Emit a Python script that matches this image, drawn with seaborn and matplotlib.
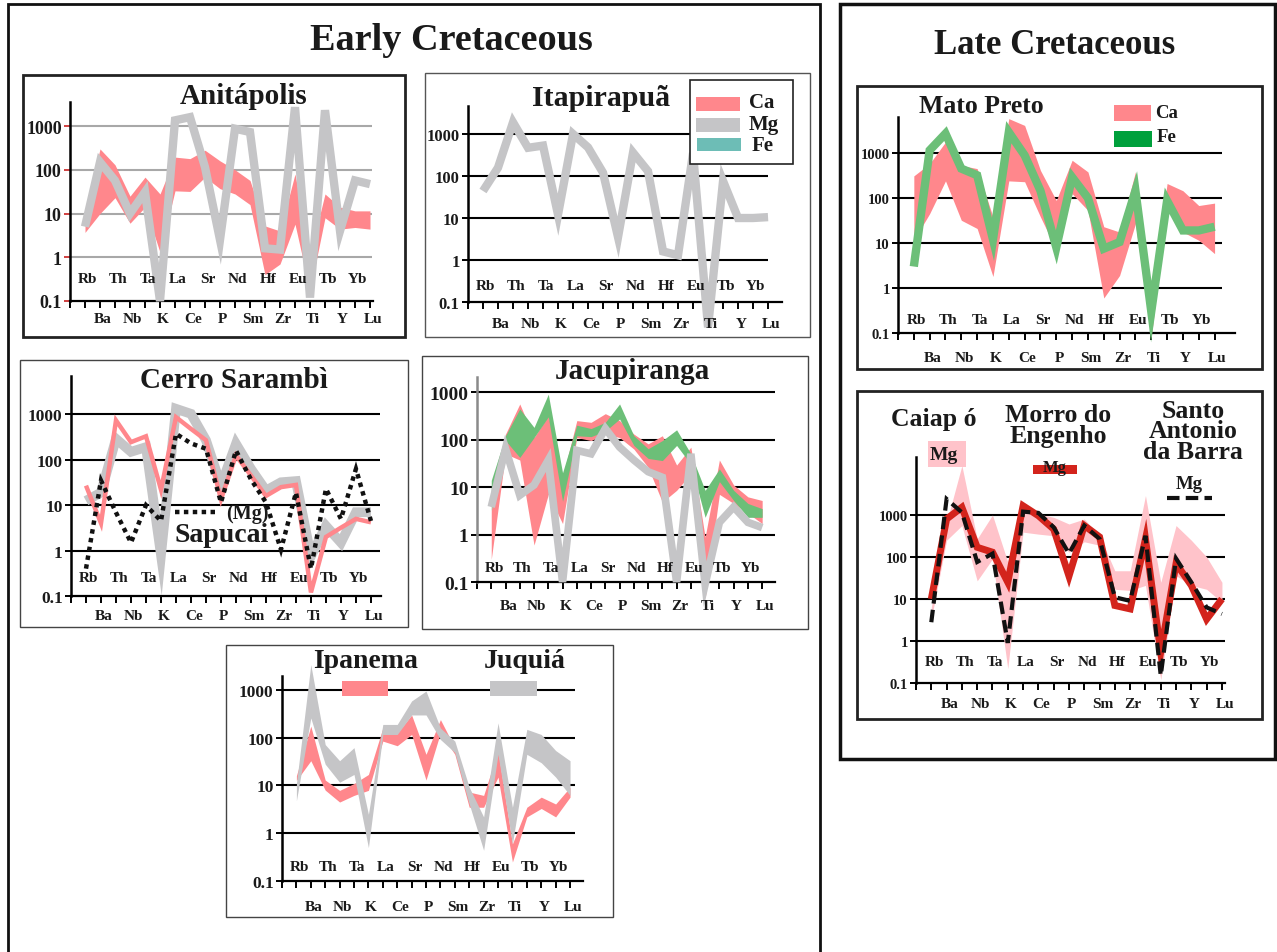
import numpy as np
import matplotlib
matplotlib.use("Agg")
import matplotlib.pyplot as plt
import seaborn as sns
from matplotlib.patches import Rectangle
from matplotlib.lines import Line2D
from matplotlib.ticker import NullLocator, FixedLocator

W, H = 1277, 953
sns.set_theme(style="white")
plt.rcParams['font.family'] = ['Liberation Serif', 'DejaVu Serif']

# ---------------- data ----------------
elements = ["Rb", "Ba", "Th", "Nb", "Ta", "K", "La", "Ce", "Sr", "P",
            "Nd", "Sm", "Hf", "Zr", "Eu", "Ti", "Tb", "Y", "Yb", "Lu"]
positions = np.arange(1, 21)
ytick_vals = [0.1, 1, 10, 100, 1000]
ytick_labels = ["0.1", "1", "10", "100", "1000"]

# Anitápolis
anit_mg = [5, 150, 57, 10, 31, 0.1, 1350, 1600, 115, 2.5, 870, 730, 1.6, 1.5, 2700, 0.12, 2300, 4, 57, 47]
anit_ca_hi = [11, 300, 130, 25, 68, 28, 195, 180, 280, 160, 100, 57, 5.2, 4, 80, 1.15, 28, 14, 11.5, 11.5]
anit_ca_lo = [3.7, 10, 23, 6, 14, 1.3, 33, 32, 68, 37, 28, 16, 0.4, 0.7, 5.7, 0.17, 8, 4.4, 4.8, 4.4]

# Itapirapuã
itap_mg = [44, 158, 1900, 470, 530, 12, 1000, 480, 120, 3.5, 360, 130, 1.6, 1.3, 350, 0.025, 76, 10, 10, 10.5]

# Cerro Sarambì + Sapucai
cerro_mg = [12.5, 19, 290, 150, 190, 0.8, 1330, 1030, 270, 27, 225, 63, 21, 32, 34, 0.75, 3.5, 1.5, 7, 7]
cerro_ca = [27, 4, 740, 245, 330, 22, 870, 480, 270, 13.5, 125, 45, 16, 25, 28, 0.12, 2, 3.2, 5, 4.2]
sapucai_mg = [0.4, 35, 6.9, 1.5, 10, 4.5, 375, 230, 175, 11.5, 160, 37, 11.5, 1.05, 19, 0.4, 23, 5, 63, 4.5]

# Jacupiranga
jacu_fe_hi = [13.8, 120, 440, 180, 900, 20, 200, 170, 230, 560, 120, 64, 95, 160, 50, 8.5, 24, 8.5, 4.5, 3.5]
jacu_fe_lo = [3.2, 95, 42, 110, 300, 5, 120, 115, 150, 270, 75, 40, 36, 75, 30, 2.3, 13, 5.2, 2.3, 2.3]
jacu_ca_hi = [3.2, 130, 560, 110, 320, 16, 250, 230, 350, 250, 130, 81, 120, 29, 69, 0.88, 37, 11, 6.2, 5.2]
jacu_ca_lo = [0.3, 50, 37, 0.6, 7, 1.7, 110, 95, 130, 110, 63, 26, 4.8, 8.5, 19, 0.045, 7, 4.5, 2.8, 1.7]
jacu_mg = [3.8, 64, 6.7, 11, 37, 0.1, 59, 50, 170, 69, 37, 21, 16, 0.1, 50, 0.09, 1.8, 3.8, 1.8, 1.4]

# Ipanema / Juquiá
ipa_ca_hi = [16, 175, 13, 7.9, 11, 17, 160, 127, 300, 45, 240, 62, 7.3, 6.2, 54, 0.6, 3.5, 5.7, 4.1, 9.2]
ipa_ca_lo = [12.7, 33, 8, 4.5, 6.2, 7.9, 85, 68, 117, 13, 127, 45, 3.5, 3.5, 15, 0.25, 2.2, 3.3, 2.2, 5.7]
juq_mg_hi = [10.8, 3400, 72, 33, 62, 2.5, 190, 190, 590, 950, 160, 85, 9.2, 2.2, 205, 3.5, 150, 117, 54, 33]
juq_mg_lo = [4.8, 260, 28, 11.7, 17, 0.5, 117, 117, 300, 300, 92, 49, 4.1, 0.44, 45, 0.6, 45, 30, 15, 6.2]

# Mato Preto
mato_ca_hi = [310, 580, 1750, 530, 450, 38, 5800, 4100, 410, 88, 690, 380, 23, 17.5, 380, 0.63, 210, 145, 68, 77]
mato_ca_lo = [11.5, 45, 240, 32, 21, 1.8, 240, 230, 38, 7, 125, 53, 0.6, 1.9, 27, 0.08, 74, 17.5, 11.5, 5.8]
mato_fe = [3, 1150, 2700, 450, 320, 12, 2900, 890, 145, 8, 290, 100, 7.5, 10.5, 145, 0.3, 87, 19, 19, 23]

# Caiapó / Morro do Engenho / Santo Antonio da Barra
caia_mg_hi = [6.3, 670, 15000, 270, 1000, 76, 1800, 1050, 880, 610, 800, 320, 47, 47, 2900, 25, 560, 250, 100, 25]
caia_mg_lo = [3.3, 250, 560, 27, 90, 0.22, 390, 350, 320, 130, 230, 190, 17, 16, 21, 0.12, 36, 21, 17, 8.3]
morro_mg = [10, 800, 1520, 170, 130, 25, 1650, 960, 460, 35, 560, 300, 7, 5.8, 270, 0.55, 70, 21, 3.3, 10]
santo_mg = [2.8, 2400, 1150, 76, 120, 0.9, 1200, 1120, 510, 120, 560, 270, 11, 9, 320, 0.15, 92, 25, 6.3, 4.4]

# ---------------- style ----------------
RED = '#FF878C'
GRAY = '#C5C5C7'
GREEN = '#6CBF78'
TEAL = '#6DBDB6'
DKGREEN = '#00A03C'
PINK = '#FFC3CA'
CRIMSON = '#D3241C'
INK = '#1a1a1a'

fig = plt.figure(figsize=(W / 100, H / 100), dpi=100)
fig.patch.set_facecolor('white')


def add_ax(left, top, right, bottom):
    return fig.add_axes([left / W, 1 - bottom / H, (right - left) / W, (bottom - top) / H])


def frect(x0, y0, x1, y1, **kw):
    kw.setdefault('fill', 'fc' in kw)
    r = Rectangle((x0 / W, 1 - y1 / H), (x1 - x0) / W, (y1 - y0) / H,
                  transform=fig.transFigure, **kw)
    fig.add_artist(r)


def ftext(x, y, s, size, **kw):
    kw.setdefault('ha', 'center')
    kw.setdefault('va', 'center')
    kw.setdefault('zorder', 10)
    fig.text(x / W, 1 - y / H, s, fontsize=size, fontweight='bold', color=INK, **kw)


def fline(x0, x1, y, **kw):
    fig.add_artist(Line2D([x0 / W, x1 / W], [1 - y / H, 1 - y / H],
                          transform=fig.transFigure, zorder=10, **kw))


def line(ax, vals, color, lw, z=3, **kw):
    sns.lineplot(x=positions, y=vals, ax=ax, color=color, linewidth=lw, legend=False,
                 estimator=None, sort=False, clip_on=False, zorder=z,
                 solid_joinstyle='miter', solid_capstyle='butt', **kw)


def band(ax, lo, hi, color, z=2):
    ax.fill_between(positions, lo, hi, color=color, linewidth=0, zorder=z, clip_on=False)


def setup(ax, xmax, ymax, grid_xmax, ylab_size, top_off, bot_off,
          grid_color='black', left_color='black', tick_color='black'):
    ax.set_yscale('log')
    ax.set_xlim(0, xmax)
    ax.set_ylim(0.1, ymax)
    ax.patch.set_alpha(0)
    ax.spines['top'].set_visible(False)
    ax.spines['right'].set_visible(False)
    ax.spines['left'].set_color(left_color)
    ax.spines['left'].set_linewidth(1.8)
    ax.spines['bottom'].set_color('black')
    ax.spines['bottom'].set_linewidth(1.6)
    ax.xaxis.set_major_locator(FixedLocator(np.arange(0, 21)))
    ax.xaxis.set_minor_locator(NullLocator())
    ax.set_xticklabels([])
    ax.yaxis.set_major_locator(FixedLocator(ytick_vals))
    ax.yaxis.set_minor_locator(NullLocator())
    ax.set_yticklabels(ytick_labels)
    ax.tick_params(axis='x', which='major', bottom=True, direction='out', length=5,
                   width=1.4, color='black')
    ax.tick_params(axis='y', which='major', left=True, direction='out', length=4,
                   width=1.4, color=tick_color, pad=2, labelsize=ylab_size)
    for t in ax.get_yticklabels():
        t.set_fontweight('bold')
        t.set_color(INK)
    ax.hlines([1, 10, 100, 1000], 0, grid_xmax, colors=grid_color, linewidth=1.5, zorder=0.5)
    ax.set_xlabel('')
    ax.set_ylabel('')
    for i, el in enumerate(elements):
        off = top_off if i % 2 == 0 else bot_off
        ax.annotate(el, xy=(positions[i], 0), xycoords=ax.get_xaxis_transform(),
                    xytext=(2, off * 0.72), textcoords='offset points', ha='center',
                    va='center', fontsize=11, fontweight='bold', color=INK,
                    annotation_clip=False)


# ---------------- outer frames ----------------
frect(8, 5, 820, 970, ec='#111', lw=2)
frect(840, 5, 1275, 760, ec='#111', lw=2.5)
ftext(451, 40, 'Early Cretaceous', 27.5)
ftext(1055, 46, 'Late Cretaceous', 25)

# panel frames
frect(23, 76, 405, 338, ec='#222', lw=2)
frect(425, 74, 810, 338, ec='#555', lw=1)
frect(20, 361, 408, 628, ec='#444', lw=1)
frect(422, 357, 808, 630, ec='#444', lw=1)
frect(226, 646, 613, 918, ec='#444', lw=1)
frect(857, 87, 1262, 370, ec='#222', lw=2)
frect(857, 392, 1262, 720, ec='#222', lw=2)

# ---------------- Anitápolis ----------------
ax = add_ax(70, 103, 373, 302)
ax.set_yscale('log')
band(ax, anit_ca_lo, anit_ca_hi, RED)
line(ax, anit_mg, GRAY, 6)
setup(ax, 20.2, 10 ** 3.55, 20.1, 13, 22, -18, grid_color='#A8A8A8', tick_color='#D04040')
ftext(244, 96, 'Anitápolis', 21)

# ---------------- Itapirapuã ----------------
ax = add_ax(468, 107, 782, 303)
ax.set_yscale('log')
line(ax, itap_mg, GRAY, 6)
setup(ax, 20.93, 10 ** 3.667, 20, 12, 17, -22)
ftext(601, 98, 'Itapirapuã', 21.5)
frect(690, 81, 793, 165, fc='white', ec='#222', lw=1.2, zorder=5)
frect(696, 98, 740, 112, fc=RED, ec='none', zorder=6)
frect(696, 119, 740, 133, fc=GRAY, ec='none', zorder=6)
frect(697, 139, 741, 152, fc=TEAL, ec='none', zorder=6)
ftext(762, 103, 'Ca', 15)
ftext(764, 125, 'Mg', 15)
ftext(763, 146, 'Fe', 15)

# ---------------- Cerro Sarambì ----------------
ax = add_ax(71, 377, 381, 597)
ax.set_yscale('log')
line(ax, cerro_mg, GRAY, 7, z=2)
line(ax, cerro_ca, RED, 3.2, z=3)
line(ax, sapucai_mg, '#111111', 3.2, z=4, linestyle=(0, (1, 1)), dash_capstyle='butt',
     dash_joinstyle='miter')
setup(ax, 20.67, 10 ** 3.846, 20.6, 12.5, 19, -19)
ftext(234, 381, 'Cerro Sarambì', 21)
fline(175, 218, 513, color='#111', lw=3.2, linestyle=(0, (1, 1)), dash_capstyle='butt')
ftext(247, 514, '(Mg)', 14.5)
ftext(222, 535, 'Sapucai', 20)

# ---------------- Jacupiranga ----------------
ax = add_ax(477, 378, 775, 583)
ax.set_yscale('log')
band(ax, jacu_ca_lo, jacu_ca_hi, RED, z=2)
band(ax, jacu_fe_lo, jacu_fe_hi, GREEN, z=2.5)
line(ax, jacu_mg, GRAY, 5.5)
setup(ax, 20.9, 10 ** 3.316, 20.9, 14, 15, -24, left_color='#8a8a8a')
ftext(632, 372, 'Jacupiranga', 21)

# ---------------- Ipanema / Juquiá ----------------
ax = add_ax(282, 677, 583, 882)
ax.set_yscale('log')
band(ax, ipa_ca_lo, ipa_ca_hi, RED, z=2)
band(ax, juq_mg_lo, juq_mg_hi, GRAY, z=2.5)
setup(ax, 20.9, 10 ** 3.293, 20.35, 12.5, 14, -26)
ftext(366, 662, 'Ipanema', 20)
ftext(525, 662, 'Juquiá', 20)
frect(342, 682, 388, 697, fc=RED, ec='none', zorder=6)
frect(490, 682, 537, 697, fc=GRAY, ec='none', zorder=6)

# ---------------- Mato Preto ----------------
ax = add_ax(898, 118, 1235, 334)
ax.set_yscale('log')
band(ax, mato_ca_lo, mato_ca_hi, RED)
line(ax, mato_fe, GREEN, 6)
setup(ax, 21.29, 10 ** 3.8, 20.5, 10.5, 14, -24)
ftext(981, 107, 'Mato Preto', 18.5)
frect(1114, 106, 1151, 122, fc=RED, ec='none', zorder=6)
frect(1114, 132, 1152, 148, fc=DKGREEN, ec='none', zorder=6)
ftext(1167, 114, 'Ca', 13.5)
ftext(1167, 138, 'Fe', 13.5)

# ---------------- Caiapó / Morro do Engenho / Santo Antonio da Barra ----------------
ax = add_ax(916, 458, 1225, 684)
ax.set_yscale('log')
band(ax, caia_mg_lo, caia_mg_hi, PINK)
line(ax, morro_mg, CRIMSON, 5, z=3)
line(ax, santo_mg, '#111111', 3, z=4, linestyle=(0, (3, 1.5)), dash_capstyle='butt',
     dash_joinstyle='miter')
setup(ax, 20.2, 10 ** 4.38, 20.2, 10.5, 21, -21)
ftext(934, 420, 'Caiap ó', 18.5)
ftext(1058, 426, 'Morro do\nEngenho', 18.5, linespacing=0.85)
ftext(1193, 432, 'Santo\nAntonio\nda Barra', 18.5, linespacing=0.85)
frect(928, 442, 966, 468, fc=PINK, ec='none', zorder=6)
ftext(944, 456, 'Mg', 14)
frect(1033, 466, 1077, 475, fc=CRIMSON, ec='none', zorder=6)
ftext(1055, 468, 'Mg', 12)
ftext(1189, 485, 'Mg', 13.5)
fline(1167, 1212, 499, color='#111', lw=3, linestyle=(0, (3, 1.5)), dash_capstyle='butt')

fig.savefig('out.png', dpi=100, facecolor='white')
